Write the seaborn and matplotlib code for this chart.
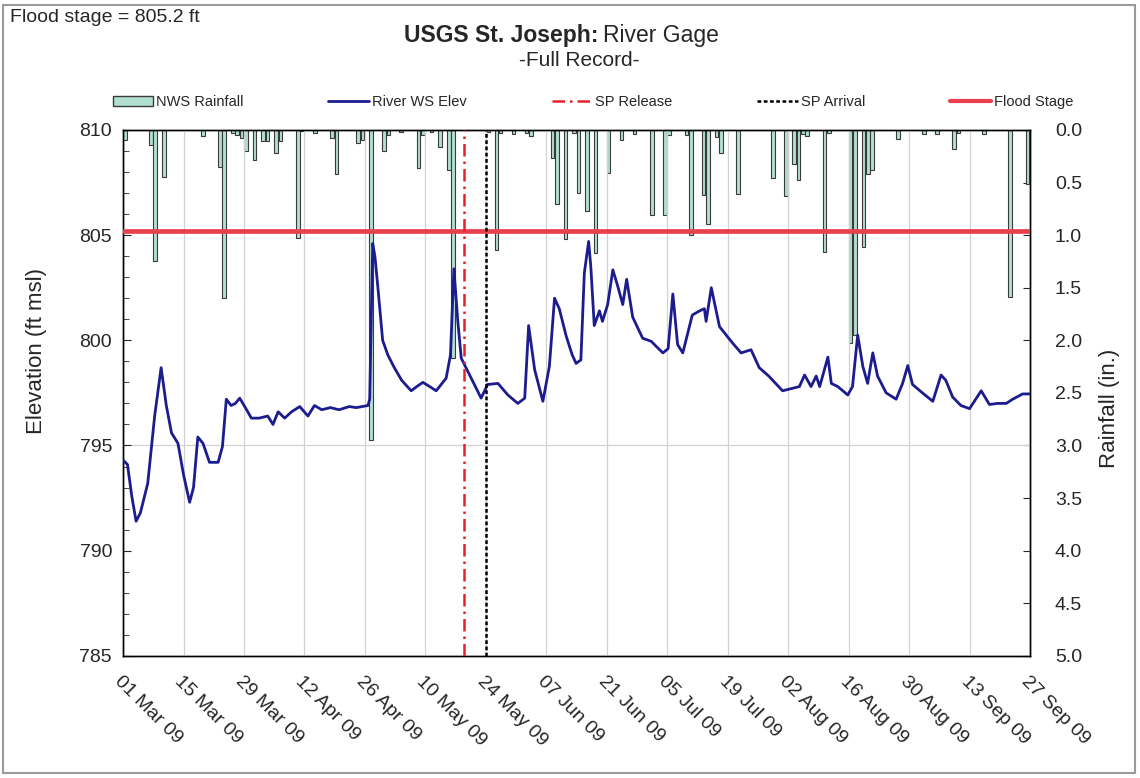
import numpy as np
import pandas as pd
import matplotlib
matplotlib.use("Agg")
import matplotlib.pyplot as plt
from matplotlib.patches import Patch, Rectangle
from matplotlib.lines import Line2D
from matplotlib.ticker import MultipleLocator, FormatStrFormatter
import seaborn as sns

sns.set_style("white")
plt.rcParams['font.family'] = ['Liberation Sans', 'DejaVu Sans']

start = pd.Timestamp('2009-03-01')

# River WS elevation (days after 01 Mar 09, ft msl)
elev_day = [0.0, 1.0, 2.0, 3.0, 4.0, 5.7, 7.3, 8.8, 10.0, 11.2, 12.7, 14.0, 15.4, 16.3, 17.3,
            18.5, 20.0, 22.0, 23.0, 23.9, 25.0, 26.0, 27.0, 28.3, 29.7, 31.5, 33.5, 34.7, 35.9,
            37.4, 39.0, 40.9, 42.8, 44.3, 46.0, 48.0, 50.0, 52.4, 54.0, 56.7, 57.1, 57.8, 58.3,
            59.0, 60.1, 61.3, 62.8, 64.5, 66.7, 68.0, 69.4, 71.0, 72.5, 74.8, 75.8, 76.6, 77.5,
            78.3, 80.6, 82.9, 84.4, 86.8, 89.1, 91.4, 93.0, 93.9, 95.3, 97.2, 98.7, 99.9, 101.0,
            102.6, 104.0, 104.9, 106.0, 106.8, 107.8, 108.3, 109.1, 110.3, 111.0, 112.2, 113.4,
            114.5, 115.7, 116.6, 118.0, 120.3, 122.3, 123.5, 125.0, 126.2, 127.3, 128.4, 129.6,
            131.8, 133.5, 134.6, 135.0, 136.2, 138.1, 141.2, 143.1, 145.4, 147.3, 149.5, 152.7,
            156.6, 157.8, 159.3, 160.5, 161.3, 163.2, 164.0, 165.5, 167.8, 168.9, 170.1, 171.3,
            172.4, 173.6, 174.7, 176.7, 179.0, 180.5, 181.7, 182.8, 185.1, 187.5, 189.4, 190.5,
            192.1, 194.0, 196.0, 198.7, 200.6, 202.5, 204.5, 206.0, 208.3, 210.0]
elev_ft = [794.3, 794.1, 792.6, 791.4, 791.8, 793.2, 796.4, 798.7, 796.9, 795.6, 795.1, 793.6, 792.3,
           793.0, 795.4, 795.1, 794.2, 794.2, 794.95, 797.2, 796.9, 797.0, 797.25, 796.8, 796.3,
           796.3, 796.4, 796.0, 796.6, 796.3, 796.6, 796.85, 796.4, 796.9, 796.7, 796.8, 796.7,
           796.85, 796.8, 796.9, 797.2, 804.6, 804.0, 802.5, 800.0, 799.3, 798.7, 798.1, 797.6,
           797.8, 798.0, 797.8, 797.6, 798.2, 799.3, 803.4, 800.9, 799.15, 798.2, 797.25, 797.9,
           797.95, 797.4, 797.0, 797.25, 800.7, 798.6, 797.1, 798.75, 802.0, 801.5, 800.2, 799.3,
           798.9, 799.07, 803.2, 804.7, 803.5, 800.7, 801.4, 800.9, 801.7, 803.35, 802.6, 801.7,
           802.9, 801.1, 800.1, 799.95, 799.7, 799.4, 799.6, 802.2, 799.8, 799.4, 801.2, 801.4,
           801.5, 800.9, 802.5, 800.65, 799.85, 799.4, 799.55, 798.7, 798.3, 797.6, 797.8, 798.35,
           797.8, 798.3, 797.8, 799.2, 797.95, 797.8, 797.4, 797.8, 800.25, 798.75, 797.95, 799.4,
           798.3, 797.5, 797.2, 797.95, 798.8, 797.9, 797.5, 797.1, 798.35, 798.1, 797.3, 796.9,
           796.75, 797.6, 796.95, 797.0, 797.0, 797.2, 797.45, 797.45]

# NWS daily rainfall (days after 01 Mar 09, inches)
rain_day = [0, 6, 7, 9, 18, 22, 23, 25, 26, 27, 28, 30, 32, 33, 35, 36, 40, 41, 44, 48, 49,
            54, 55, 57, 60, 61, 64, 68, 69, 71, 73, 75, 76, 84, 86, 87, 90, 93, 94, 99, 100,
            102, 104, 105, 107, 109, 112, 115, 118, 122, 125, 126, 130, 131, 134, 135, 137,
            138, 142, 150, 153, 155, 156, 157, 158, 162, 163, 168, 169, 171, 172, 173, 179,
            185, 188, 192, 193, 199, 205, 209]
rain_in = [0.10, 0.14, 1.25, 0.45, 0.06, 0.35, 1.60, 0.03, 0.05, 0.08, 0.20, 0.29, 0.11, 0.11,
           0.22, 0.11, 1.03, 0.01, 0.03, 0.08, 0.42, 0.12, 0.10, 2.95, 0.20, 0.05, 0.02, 0.36,
           0.05, 0.02, 0.16, 0.38, 2.17, 0.02, 1.14, 0.03, 0.04, 0.03, 0.06, 0.27, 0.70, 1.04,
           0.03, 0.60, 0.77, 1.17, 0.41, 0.10, 0.04, 0.81, 0.81, 0.05, 0.05, 1.00, 0.62, 0.89,
           0.07, 0.22, 0.61, 0.46, 0.63, 0.32, 0.48, 0.04, 0.06, 1.16, 0.03, 2.03, 1.95, 1.11,
           0.42, 0.38, 0.09, 0.04, 0.04, 0.18, 0.03, 0.04, 1.59, 0.51]

flood_stage = 805.2
sp_release_day = 79
sp_arrival_day = 84
n_days = 210

elev_dates = start + pd.to_timedelta(elev_day, unit='D')
rain_dates = start + pd.to_timedelta(rain_day, unit='D')
tick_dates = pd.date_range(start, periods=16, freq='14D')

river_col = '#1c1c8e'
flood_col = '#e8404c'
bar_col = '#b2e0d0'

fig = plt.figure(figsize=(11.4, 7.78), dpi=100)
ax = fig.add_axes([0.108, 0.157, 0.7955, 0.676])
ax2 = ax.twinx()
ax.set_zorder(ax2.get_zorder() + 1)
ax.patch.set_visible(False)

# rainfall bars hanging from the top
ax2.bar(rain_dates, rain_in, width=0.85, align='edge', color=bar_col,
        edgecolor='#3a3a3a', linewidth=0.8)
ax2.set_ylim(5, 0)
ax2.yaxis.set_major_locator(MultipleLocator(0.5))
ax2.yaxis.set_major_formatter(FormatStrFormatter('%.1f'))
ax2.tick_params(axis='y', direction='in', length=5, labelsize=14, pad=18)
ax2.set_ylabel('Rainfall (in.)', fontsize=16, rotation=90)
ax2.yaxis.set_label_coords(1.076, 0.47)

# river elevation and reference lines
ax.grid(axis='x', color='#d2d2d2', lw=0.9)
ax.axhline(795, color='#d2d2d2', lw=0.9, zorder=0)
ax.axhline(flood_stage, color=flood_col, lw=3.4, zorder=3)
sns.lineplot(x=elev_dates, y=elev_ft, ax=ax, color=river_col, linewidth=2, zorder=4)
ax.axvline(start + pd.Timedelta(days=sp_release_day), color='#e8202a', lw=1.8,
           ls=(0, (5, 2, 1, 2)), zorder=5)
ax.axvline(start + pd.Timedelta(days=sp_arrival_day), color='black', lw=1.8,
           ls=(0, (1.5, 1)), zorder=5)

ax.set_xlim(start, start + pd.Timedelta(days=n_days))
ax.set_ylim(785, 810)
ax.set_yticks(range(785, 811, 5))
ax.yaxis.set_minor_locator(MultipleLocator(1))
ax.tick_params(axis='y', which='both', direction='in', labelsize=14, pad=8)
ax.tick_params(axis='y', which='major', length=6)
ax.tick_params(axis='y', which='minor', length=4)
ax.set_xticks(tick_dates)
ax.set_xticklabels([d.strftime('%d %b %y') for d in tick_dates])
ax.tick_params(axis='x', direction='out', length=5, labelsize=14, pad=7)
for lbl in ax.get_xticklabels():
    lbl.set_rotation(-45)
    lbl.set_ha('left')
    lbl.set_va('top')
    lbl.set_rotation_mode('anchor')
ax.set_xlabel('')
ax.set_ylabel('Elevation (ft msl)', fontsize=16)
ax.yaxis.set_label_coords(-0.084, 0.58)

for a in (ax, ax2):
    for s in a.spines.values():
        s.set_color('black')
        s.set_linewidth(1)

# legend across the top
handles = [
    Patch(facecolor=bar_col, edgecolor='#3a3a3a', label='NWS Rainfall'),
    Line2D([], [], color=river_col, lw=2, label='River WS Elev'),
    Line2D([], [], color='#e8202a', lw=1.8, ls=(0, (5, 2, 1, 2)), label='SP Release'),
    Line2D([], [], color='black', lw=1.8, ls=(0, (1.5, 1)), label='SP Arrival'),
    Line2D([], [], color=flood_col, lw=3, label='Flood Stage'),
]
fig.legend(handles=handles, loc='center', bbox_to_anchor=(0.52, 0.869), ncol=5,
           frameon=False, fontsize=10.5, handlelength=2.8, handletextpad=0.2,
           columnspacing=5.8)

fig.text(0.525, 0.955, 'USGS St. Joseph:', ha='right', va='center',
         fontsize=16.5, fontweight='bold')
fig.text(0.529, 0.955, 'River Gage', ha='left', va='center', fontsize=16.5)
fig.text(0.508, 0.922, '-Full Record-', ha='center', va='center', fontsize=15)
fig.text(0.009, 0.988, 'Flood stage = 805.2 ft', ha='left', va='top', fontsize=14)

fig.patches.append(Rectangle((0.003, 0.006), 0.993, 0.988, transform=fig.transFigure,
                             fill=False, edgecolor='#9a9a9a', lw=1.5))

fig.savefig('out.png', dpi=100)
